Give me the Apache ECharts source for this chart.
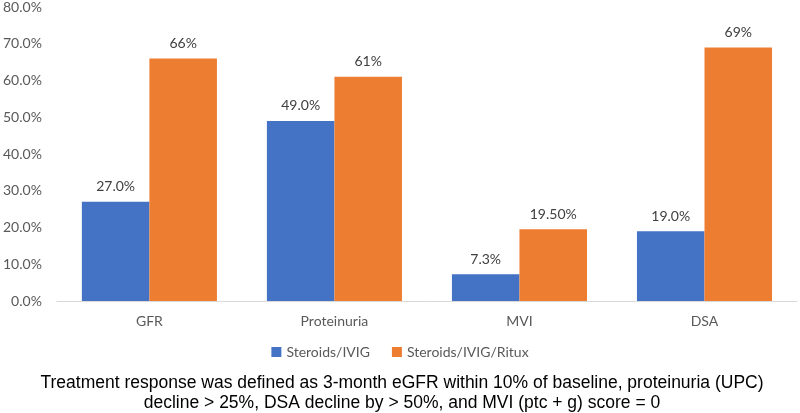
<!DOCTYPE html>
<html><head><meta charset="utf-8">
<script src="https://cdn.jsdelivr.net/npm/echarts@6/dist/echarts.min.js"></script>
<style>html,body{margin:0;padding:0;background:#fff;}#c{width:800px;height:413px;}</style>
</head><body><div id="c"></div>
<script>
const categories = ['GFR', 'Proteinuria', 'MVI', 'DSA'];
const seriesNames = ['Steroids/IVIG', 'Steroids/IVIG/Ritux'];
const steroidsIvig = [27.0, 49.0, 7.3, 19.0];
const steroidsIvigRitux = [66, 61, 19.5, 69];
const labelsIvig = ['27.0%', '49.0%', '7.3%', '19.0%'];
const labelsRitux = ['66%', '61%', '19.50%', '69%'];
const yTicks = [0, 10, 20, 30, 40, 50, 60, 70, 80];
const caption = 'Treatment response was defined as 3-month eGFR within 10% of baseline, proteinuria (UPC)\ndecline > 25%, DSA decline by > 50%, and MVI (ptc + g) score = 0';

const font = 'Lato, "Open Sans", sans-serif';
const chart = echarts.init(document.getElementById('c'));
chart.setOption({
  animation: false,
  grid: { left: 53, right: 3, top: 7, bottom: 112 },
  xAxis: {
    type: 'category', data: categories,
    axisLine: { lineStyle: { color: '#d9d9d9', width: 1 } },
    axisTick: { show: false },
    axisLabel: { color: '#595959', fontSize: 14, fontFamily: font, margin: 13 }
  },
  yAxis: {
    type: 'value', min: yTicks[0], max: yTicks[yTicks.length - 1], interval: 10,
    splitLine: { show: false },
    axisLine: { show: false }, axisTick: { show: false },
    axisLabel: { color: '#595959', fontSize: 14, fontFamily: font, margin: 15,
      formatter: v => v.toFixed(1) + '%' }
  },
  legend: {
    data: seriesNames, top: 340, left: 'center',
    itemWidth: 10, itemHeight: 10, itemGap: 22, icon: 'rect',
    textStyle: { color: '#595959', fontSize: 14, fontFamily: font }
  },
  graphic: [{
    type: 'text', x: 402, y: 373,
    style: { text: caption, fill: '#000', fontSize: 17.5, fontFamily: '"Liberation Sans", Arial, sans-serif',
      lineHeight: 20, align: 'center', verticalAlign: 'top' }
  }],
  series: [
    { name: seriesNames[0], type: 'bar', data: steroidsIvig, barGap: '0%', barCategoryGap: '27%',
      itemStyle: { color: '#4472C4' },
      label: { show: true, position: 'top', distance: 8, color: '#404040', fontSize: 14, fontFamily: font,
        formatter: p => labelsIvig[p.dataIndex] } },
    { name: seriesNames[1], type: 'bar', data: steroidsIvigRitux,
      itemStyle: { color: '#ED7D31' },
      label: { show: true, position: 'top', distance: 8, color: '#404040', fontSize: 14, fontFamily: font,
        formatter: p => labelsRitux[p.dataIndex] } }
  ]
});
</script></body></html>
